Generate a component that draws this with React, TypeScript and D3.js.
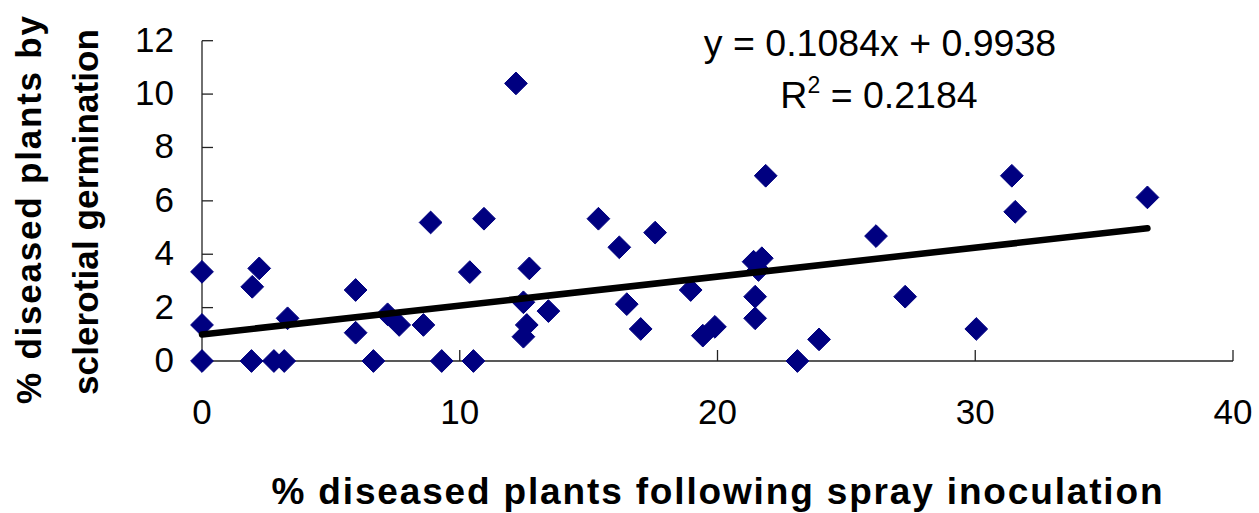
import React from "react";
import * as d3 from "d3";

// Scatter of field observations: spray-inoculation disease % vs sclerotial-germination disease %
const sprayPct: number[] = [
  0, 0, 0, 1.92, 1.95, 2.22, 2.79, 3.19, 3.32,
  5.96, 5.96, 6.65, 7.2, 7.65, 8.59, 8.87, 9.3,
  10.39, 10.53, 10.94, 12.18, 12.47, 12.6, 12.47, 12.7, 13.44,
  15.38, 16.19, 16.48, 17.02, 17.58, 18.96, 19.43, 19.9,
  21.4, 21.72, 21.59, 21.46, 21.46, 21.87,
  23.1, 23.94, 26.15, 27.28, 30.04, 31.42, 31.55, 36.68,
];
const sclerotialPct: number[] = [
  0, 1.35, 3.34, 0, 2.78, 3.47, 0, 0, 1.6,
  2.66, 1.06, 0, 1.75, 1.35, 1.35, 5.19, 0,
  3.33, 0, 5.33, 10.4, 2.2, 1.35, 0.91, 3.47, 1.87,
  5.33, 4.26, 2.13, 1.2, 4.81, 2.66, 0.95, 1.28,
  3.72, 3.85, 3.41, 2.41, 1.6, 6.94,
  0, 0.81, 4.68, 2.41, 1.2, 6.94, 5.59, 6.13,
];

// Linear trend line coefficients
const slope = 0.1084;
const intercept = 0.9938;
const rSquared = "0.2184";

const xTicks: number[] = [0, 10, 20, 30, 40];
const yTicks: number[] = [0, 2, 4, 6, 8, 10, 12];

const xTitle = "% diseased plants following spray inoculation";
const yTitleLines: string[] = ["% diseased plants by", "sclerotial germination"];

const FONT = "Arial, 'Liberation Sans', sans-serif";
const NAVY = "#000080";

export default function App() {
  const x = d3.scaleLinear().domain([0, 40]).range([202, 1233]);
  const y = d3.scaleLinear().domain([0, 12]).range([361, 40.7]);

  const points = sprayPct.map((v, i) => ({ x: v, y: sclerotialPct[i] }));
  const xMax = d3.max(sprayPct) as number;
  const xMin = d3.min(sprayPct) as number;

  const trend = d3
    .line<number>()
    .x((d) => x(d))
    .y((d) => y(slope * d + intercept))([xMin, xMax]);

  const diamond = d3.symbol().type(d3.symbolDiamond2).size(330)();

  return (
    <svg
      width={1259}
      height={513}
      style={{ position: "absolute", left: 0, top: 0, background: "#fff" }}
      fontFamily={FONT}
    >
      <rect x={0} y={0} width={1259} height={513} fill="#fff" />

      {/* axes */}
      <line x1={x(0)} x2={x(0)} y1={y(12)} y2={y(0)} stroke="#222" strokeWidth={1.3} />
      <line x1={x(0)} x2={x(40)} y1={y(0)} y2={y(0)} stroke="#222" strokeWidth={1.3} />
      {yTicks.map((t) => (
        <g key={"yt" + t}>
          <line x1={x(0)} x2={x(0) + 11} y1={y(t)} y2={y(t)} stroke="#222" strokeWidth={1.3} />
          <text x={174} y={y(t) + 11} textAnchor="end" fontSize={35} fill="#000">
            {t}
          </text>
        </g>
      ))}
      {xTicks.map((t) => (
        <g key={"xt" + t}>
          <line x1={x(t)} x2={x(t)} y1={y(0)} y2={y(0) - 11} stroke="#222" strokeWidth={1.3} />
          <text x={x(t)} y={424} textAnchor="middle" fontSize={35} fill="#000">
            {t}
          </text>
        </g>
      ))}

      {/* data points */}
      {points.map((p, i) => (
        <path
          key={"p" + i}
          d={diamond as string}
          transform={`translate(${x(p.x)},${y(p.y)})`}
          fill={NAVY}
          stroke={NAVY}
          strokeWidth={1}
          strokeLinejoin="round"
        />
      ))}

      {/* trend line */}
      <path d={trend as string} fill="none" stroke="#000" strokeWidth={6.5} strokeLinecap="round" />

      {/* trend equation */}
      <text x={880} y={56} textAnchor="middle" fontSize={37.5} fill="#000">
        {`y = ${slope}x + ${intercept}`}
      </text>
      <text x={879} y={108} textAnchor="middle" fontSize={37.5} fill="#000">
        R<tspan dy={-15} fontSize={23}>2</tspan>
        <tspan dy={15}>{` = ${rSquared}`}</tspan>
      </text>

      {/* axis titles */}
      <text
        x={717}
        y={504}
        textAnchor="middle"
        fontSize={37}
        fontWeight="bold"
        textLength={891}
        lengthAdjust="spacing"
        fill="#000"
      >
        {xTitle}
      </text>
      <text
        transform="translate(41,210) rotate(-90)"
        textAnchor="middle"
        fontSize={35}
        fontWeight="bold"
        textLength={388}
        lengthAdjust="spacing"
        fill="#000"
      >
        {yTitleLines[0]}
      </text>
      <text
        transform="translate(98,212) rotate(-90)"
        textAnchor="middle"
        fontSize={35}
        fontWeight="bold"
        textLength={366}
        lengthAdjust="spacing"
        fill="#000"
      >
        {yTitleLines[1]}
      </text>
    </svg>
  );
}
